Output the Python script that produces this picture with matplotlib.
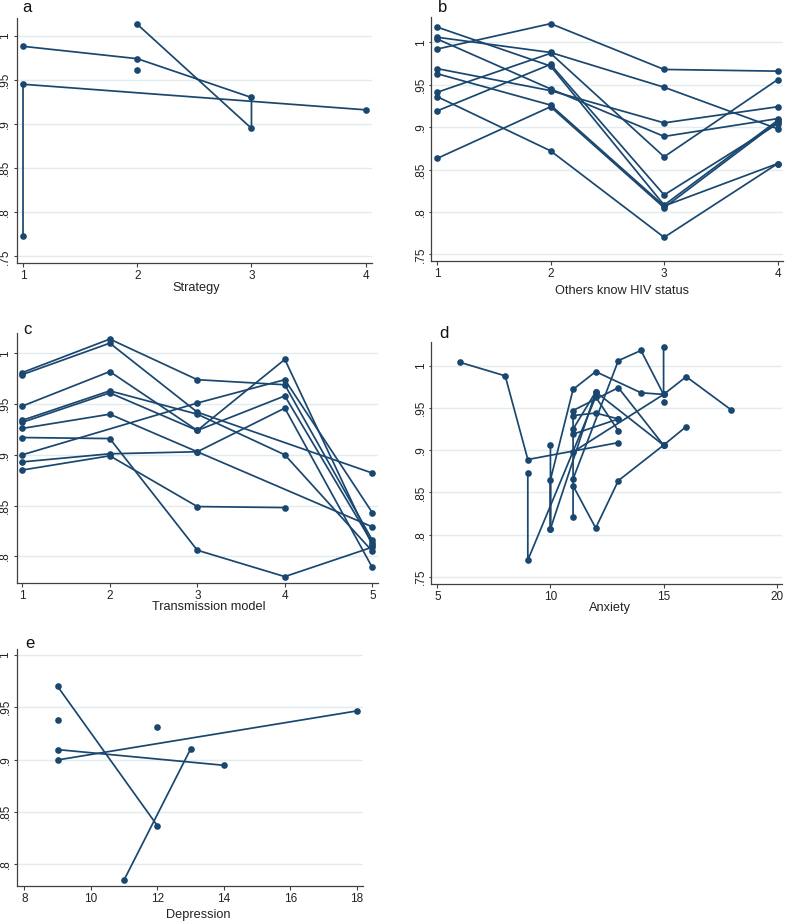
import matplotlib
matplotlib.use("Agg")
import matplotlib.pyplot as plt

plt.rcParams['font.family'] = ['Liberation Sans', 'DejaVu Sans']

NAVY = '#1a476f'
GRID = '#e2ebee'

# ---------------- data ----------------
# panel a: Strategy
a_x1 = [1, 2, 3, 3, 2]
a_y1 = [0.988, 0.974, 0.930, 0.895, 1.013]
a_x2 = [1, 1, 4]
a_y2 = [0.773, 0.945, 0.916]
a_x3 = [2]
a_y3 = [0.961]

# panel b: Others know HIV status (each row = one line across x = 1..4)
b_x = [1, 2, 3, 4]
b_y = [
    [1.018, 0.972, 0.808, 0.908],
    [1.006, 0.988, 0.947, 0.898],
    [1.004, 0.945, 0.889, 0.910],
    [0.992, 1.022, 0.968, 0.966],
    [0.969, 0.943, 0.905, 0.924],
    [0.963, 0.926, 0.807, 0.857],
    [0.941, 0.987, 0.865, 0.956],
    [0.936, 0.872, 0.770, 0.857],
    [0.919, 0.974, 0.820, 0.904],
    [0.863, 0.924, 0.805, 0.906],
]

# panel c: Transmission model
c_xs = [
    [1, 2, 3, 4, 5],
    [1, 2, 3, 5],
    [1, 2, 3, 4, 5],
    [1, 2, 3, 4, 5],
    [1, 2, 3, 4, 5],
    [1, 2, 3, 5],
    [1, 2, 3, 4, 5],
    [1, 3, 4, 5],
    [1, 2, 3, 4, 5],
    [1, 2, 3, 4],
]
c_ys = [
    [0.981, 1.014, 0.974, 0.969, 0.816],
    [0.979, 1.010, 0.942, 0.882],
    [0.948, 0.982, 0.924, 0.994, 0.811],
    [0.934, 0.963, 0.940, 0.900, 0.805],
    [0.932, 0.961, 0.924, 0.958, 0.813],
    [0.926, 0.940, 0.903, 0.829],
    [0.917, 0.916, 0.806, 0.780, 0.809],
    [0.900, 0.951, 0.974, 0.843],
    [0.893, 0.901, 0.903, 0.946, 0.789],
    [0.885, 0.899, 0.849, 0.848],
]

# panel d: Anxiety
d_xs = [
    [6, 8, 9, 13],
    [9, 9, 12, 13],
    [10, 10, 10, 11, 12, 14, 15, 15],
    [10, 12, 15],
    [11, 11, 13, 15],
    [11, 12, 13],
    [11, 12],
    [11, 15, 16, 18],
    [11, 12, 13, 15, 16],
    [11, 13, 14, 15],
    [11, 13],
    [15],
]
d_ys = [
    [1.004, 0.988, 0.889, 0.909],
    [0.873, 0.770, 0.963, 0.923],
    [0.906, 0.807, 0.865, 0.972, 0.993, 0.968, 0.966, 1.022],
    [0.807, 0.969, 0.906],
    [0.821, 0.947, 0.974, 0.906],
    [0.941, 0.944, 0.937],
    [0.925, 0.969],
    [0.898, 0.966, 0.987, 0.9475],
    [0.858, 0.808, 0.864, 0.906, 0.928],
    [0.866, 1.006, 1.018, 0.966],
    [0.919, 0.937],
    [0.957],
]

# panel e: Depression
e_xs = [[9, 12], [11, 13], [9, 14], [9, 18], [9], [12]]
e_ys = [[0.970, 0.837], [0.785, 0.910], [0.9096, 0.8946], [0.8997, 0.9465], [0.938], [0.931]]

# tick labels
yt_main = [0.75, 0.80, 0.85, 0.90, 0.95, 1.0]
yt_lab = ['.75', '.8', '.85', '.9', '.95', '1']
yt_e = [0.80, 0.85, 0.90, 0.95, 1.0]
yt_e_lab = ['.8', '.85', '.9', '.95', '1']
xt_a = [1, 2, 3, 4]
xt_b = [1, 2, 3, 4]
xt_c = [1, 2, 3, 4, 5]
xt_d = [5, 10, 15, 20]
xt_e = [8, 10, 12, 14, 16, 18]

letters = ['a', 'b', 'c', 'd', 'e']
xlabels = ['Strategy', 'Others know HIV status', 'Transmission model', 'Anxiety', 'Depression']

# ---------------- layout ----------------
W, H = 787, 923
fig = plt.figure(figsize=(W / 100, H / 100), dpi=100)


def make_ax(l, r, t, b):
    return fig.add_axes([l / W, 1 - b / H, (r - l) / W, (b - t) / H])


def style(ax, xlim, ylim, xt, yt, ytl, left_panel):
    ax.set_xlim(*xlim)
    ax.set_ylim(*ylim)
    ax.set_xticks(xt)
    ax.set_xticklabels([str(v) for v in xt])
    ax.set_yticks(yt)
    ax.set_yticklabels(ytl)
    for s in ['top', 'right']:
        ax.spines[s].set_visible(False)
    for s in ['left', 'bottom']:
        ax.spines[s].set_color('#404040')
        ax.spines[s].set_linewidth(0.9)
    ax.set_axisbelow(True)
    ax.yaxis.grid(True, color=GRID, lw=1.0)
    ax.tick_params(axis='both', colors='#404040', labelcolor='#222222',
                   width=0.8, labelsize=8.5)
    ax.tick_params(axis='x', length=3, pad=2)
    if left_panel:
        ax.tick_params(axis='y', length=2.2, pad=2.0)
    else:
        ax.tick_params(axis='y', length=1.5, pad=1.0)
    for lbl in ax.get_yticklabels():
        lbl.set_rotation(90)
        lbl.set_va('center')
        lbl.set_ha('right')


def draw(ax, x, y):
    ax.plot(x, y, '-o', color=NAVY, lw=1.25, ms=4.8, mec=NAVY, mew=0, clip_on=False)


# panel a
axa = make_ax(16.7, 372, 18, 263)
draw(axa, a_x1, a_y1)
draw(axa, a_x2, a_y2)
draw(axa, a_x3, a_y3)
style(axa, (0.9448, 4.055), (0.7424, 1.0201), xt_a, yt_main, yt_lab, True)

# panel b
axb = make_ax(430.7, 783, 16.7, 261)
for row in b_y:
    draw(axb, b_x, row)
style(axb, (0.9445, 4.0467), (0.7421, 1.0302), xt_b, yt_main, yt_lab, False)

# panel c
axc = make_ax(16.7, 378, 333.3, 582.7)
for xs, ys in zip(c_xs, c_ys):
    draw(axc, xs, ys)
style(axc, (0.936, 5.065), (0.774, 1.0197), xt_c, yt_main[1:], yt_lab[1:], True)

# panel d
axd = make_ax(430.7, 781.7, 341.7, 583.7)
for xs, ys in zip(d_xs, d_ys):
    draw(axd, xs, ys)
style(axd, (4.708, 20.22), (0.7421, 1.0284), xt_d, yt_main, yt_lab, False)

# panel e
axe = make_ax(17.3, 362.7, 649.3, 886)
for xs, ys in zip(e_xs, e_ys):
    draw(axe, xs, ys)
style(axe, (7.789, 18.18), (0.7793, 1.0054), xt_e, yt_e, yt_e_lab, True)

# panel letters and axis titles
letter_pos = [(27, 8), (443, 7.5), (27, 329), (444, 333), (30, 643)]
xlabel_pos = [(196.7, 288.5), (621.7, 290.5), (208.3, 607), (610, 608), (198.3, 915)]
for s, (px, py) in zip(letters, letter_pos):
    fig.text(px / W, 1 - py / H, s, ha='center', va='center', fontsize=12, color='#111111')
for s, (px, py) in zip(xlabels, xlabel_pos):
    fig.text(px / W, 1 - py / H, s, ha='center', va='center', fontsize=9.2, color='#222222')

fig.savefig('out.png', dpi=100, facecolor='white')
